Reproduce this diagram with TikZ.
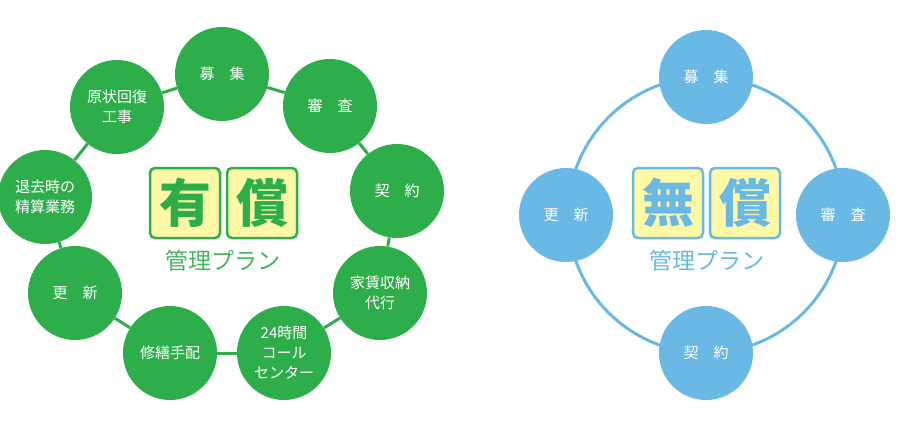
\documentclass[tikz,border=0pt]{standalone}
\usepackage{fontspec}
\usepackage{xcolor}
\newfontfamily\jp{Noto Sans CJK JP}

\begin{document}
\begin{tikzpicture}[x=1pt,y=-1pt,
  stepnode/.style={circle,minimum size=94,inner sep=0,text=white,align=center,font=\jp\fontsize{15}{20}\selectfont},
  kanjibox/.style={draw,line width=2.5,rounded corners=5,fill=lemon,minimum size=70,inner sep=0,font=\jp\bfseries\fontsize{52}{52}\selectfont},
  plantext/.style={font=\jp\fontsize{23}{23}\selectfont}]
\definecolor{leaf}{HTML}{2EAE4B}
\definecolor{sky}{HTML}{6AB8E4}
\definecolor{lemon}{HTML}{FFF8A6}
\useasboundingbox (0,0) rectangle (900,423);
% paid plan
  \foreach \nm/\x/\y/\txt in {g1/222/74/{募\quad 集},g2/330/106/{審\quad 査},g3/397/191/{契\quad 約},
    g4/380/293/{家賃収納\\代行},g5/284/353/{24時間\\コール\\センター},g6/170/353/{修繕手配},
    g7/75/293/{更\quad 新},g8/45/197/{退去時の\\精算業務},g9/117/107/{原状回復\\工事}}
  {  \node [stepnode,fill=leaf] (\nm) at (\x,\y) {\txt};}
  \foreach \a/\b in {g1/g2,g2/g3,g3/g4,g4/g5,g5/g6,g6/g7,g7/g8,g8/g9,g9/g1}
  {  \draw [leaf,line width=3] (\a) -- (\b);}
\node [kanjibox,draw=leaf,text=leaf] (yu) at (185,203) {有};
\node [kanjibox,draw=leaf,text=leaf] (sho1) at (262,203) {償};
\node [plantext,text=leaf!90!white] (plan1) at (223,261) {管理プラン};
% free plan
\coordinate (mid) at (706,215);
\draw [sky,line width=3] (mid) circle (138);
  \foreach \nm/\x/\y/\txt in {b1/706/77/{募\quad 集},b2/843/215/{審\quad 査},b3/706/353/{契\quad 約},b4/566/215/{更\quad 新}}
  {  \node [stepnode,fill=sky] (\nm) at (\x,\y) {\txt};}
\node [kanjibox,draw=sky,text=sky] (mu) at (668,203) {無};
\node [kanjibox,draw=sky,text=sky] (sho2) at (745,203) {償};
\node [plantext,text=sky] (plan2) at (707,261) {管理プラン};
\end{tikzpicture}
\end{document}
